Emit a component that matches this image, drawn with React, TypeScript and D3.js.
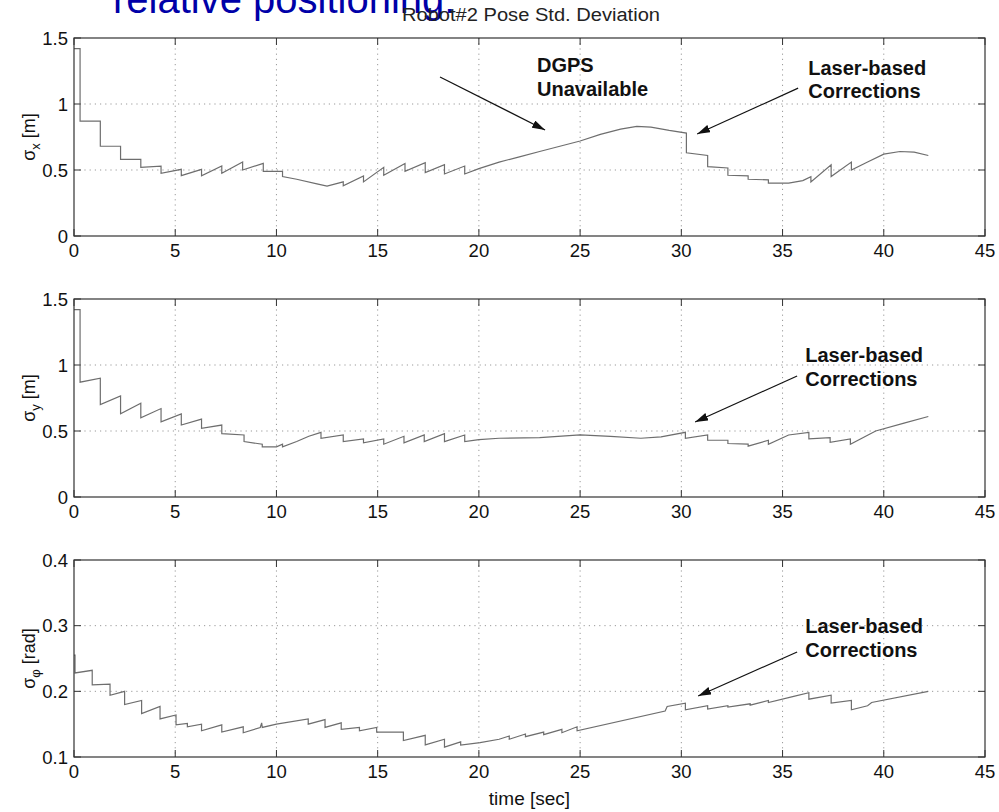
import React, { useRef, useEffect } from "react";
import * as d3 from "d3";

// time axis
const timeTicks = [0, 5, 10, 15, 20, 25, 30, 35, 40, 45];

// sigma_x [m] : [time, value], repeated times make the correction jumps
const sigmaX: [number, number][] = [
  [0, 1.42], [0.3, 1.42], [0.3, 0.87], [1.3, 0.87], [1.3, 0.68], [2.3, 0.68], [2.3, 0.58],
  [3.3, 0.58], [3.3, 0.52], [4.3, 0.53], [4.3, 0.475], [5.3, 0.505], [5.3, 0.457],
  [6.3, 0.505], [6.3, 0.457], [7.3, 0.53], [7.3, 0.475], [8.33, 0.56], [8.33, 0.5],
  [9.35, 0.55], [9.35, 0.49], [10.3, 0.49], [10.3, 0.45], [11, 0.43], [12, 0.395],
  [12.5, 0.378], [13.3, 0.41], [13.3, 0.38], [14.3, 0.455], [14.3, 0.41], [15.3, 0.52],
  [15.3, 0.46], [16.35, 0.55], [16.35, 0.49], [17.35, 0.555], [17.35, 0.48], [18.3, 0.54],
  [18.3, 0.47], [19.3, 0.53], [19.3, 0.47], [20, 0.51], [21, 0.56], [22, 0.6], [23, 0.64],
  [24, 0.68], [25, 0.72], [26, 0.77], [27, 0.81], [27.8, 0.83], [28.5, 0.825], [29.4, 0.8],
  [30.25, 0.78], [30.25, 0.63], [31.3, 0.61], [31.3, 0.525], [32.3, 0.515], [32.3, 0.46],
  [33.3, 0.455], [33.3, 0.43], [34.3, 0.425], [34.3, 0.4], [35.3, 0.4], [36, 0.42],
  [36.4, 0.45], [36.4, 0.41], [37.4, 0.54], [37.4, 0.45], [38.4, 0.56], [38.4, 0.5],
  [39.2, 0.56], [40, 0.62], [40.8, 0.64], [41.5, 0.635], [42.2, 0.61],
];

// sigma_y [m]
const sigmaY: [number, number][] = [
  [0, 1.42], [0.3, 1.42], [0.3, 0.87], [1.3, 0.9], [1.3, 0.7], [2.3, 0.765], [2.3, 0.63],
  [3.3, 0.71], [3.3, 0.6], [4.3, 0.67], [4.3, 0.57], [5.3, 0.63], [5.3, 0.545], [6.3, 0.59],
  [6.3, 0.52], [7.3, 0.545], [7.3, 0.48], [8.4, 0.47], [8.4, 0.42], [9.3, 0.4], [9.3, 0.38],
  [10, 0.38], [10.3, 0.4], [10.3, 0.38], [11, 0.42], [11.6, 0.46], [12.2, 0.49],
  [12.2, 0.445], [13.3, 0.47], [13.3, 0.42], [14.3, 0.44], [14.3, 0.41], [15.3, 0.44],
  [15.3, 0.4], [16.3, 0.46], [16.3, 0.41], [17.3, 0.47], [17.3, 0.42], [18.3, 0.48],
  [18.3, 0.42], [19.3, 0.47], [19.3, 0.42], [20, 0.435], [21, 0.445], [23, 0.45],
  [25, 0.47], [26.5, 0.46], [28, 0.445], [29, 0.455], [30.2, 0.49], [30.2, 0.445],
  [31.3, 0.47], [31.3, 0.43], [32.3, 0.43], [32.3, 0.405], [33.3, 0.4], [33.3, 0.385],
  [34.3, 0.43], [34.3, 0.4], [35.3, 0.47], [36.3, 0.49], [36.3, 0.44], [37.35, 0.45],
  [37.35, 0.415], [38.35, 0.44], [38.35, 0.4], [39.6, 0.5], [41, 0.56], [42.2, 0.61],
];

// sigma_phi [rad]
const sigmaPhi: [number, number][] = [
  [0, 0.255], [0.05, 0.255], [0.05, 0.228], [0.9, 0.232], [0.9, 0.21], [1.78, 0.211],
  [1.78, 0.194], [2.5, 0.2], [2.5, 0.18], [3.34, 0.186], [3.34, 0.166], [4.25, 0.177],
  [4.25, 0.158], [5.04, 0.164], [5.04, 0.149], [5.6, 0.151], [5.6, 0.146], [6.3, 0.15],
  [6.3, 0.14], [7.3, 0.149], [7.3, 0.138], [8.36, 0.146], [8.36, 0.137], [9.2, 0.145],
  [9.27, 0.152], [9.3, 0.145], [10, 0.15], [11.57, 0.158], [11.57, 0.15], [12.4, 0.157],
  [12.4, 0.145], [13.2, 0.152], [13.2, 0.142], [14.1, 0.145], [14.1, 0.14], [14.95, 0.145],
  [14.95, 0.138], [16.27, 0.138], [16.27, 0.125], [17.35, 0.133], [17.35, 0.1185],
  [18.3, 0.127], [18.3, 0.115], [19.1, 0.123], [19.1, 0.118], [20.06, 0.122], [21, 0.127],
  [21.5, 0.132], [21.5, 0.127], [22.3, 0.135], [22.3, 0.131], [23.2, 0.138], [23.2, 0.134],
  [24.1, 0.142], [24.1, 0.137], [24.85, 0.146], [24.85, 0.14], [29.2, 0.17], [29.3, 0.177],
  [30.2, 0.182], [30.2, 0.172], [31.3, 0.178], [31.3, 0.173], [32.3, 0.178], [32.3, 0.176],
  [33.4, 0.181], [33.4, 0.179], [34.3, 0.186], [34.3, 0.183], [35.5, 0.192], [36.3, 0.198],
  [36.3, 0.188], [37.4, 0.194], [37.4, 0.182], [38.4, 0.186], [38.4, 0.172], [39.2, 0.178],
  [39.4, 0.183], [42.2, 0.2],
];

const posTicks = [0, 0.5, 1, 1.5];
const posTickLabels = ["0", "0.5", "1", "1.5"];
const headTicks = [0.1, 0.2, 0.3, 0.4];
const headTickLabels = ["0.1", "0.2", "0.3", "0.4"];

const panels = [
  {
    data: sigmaX, domain: [0, 1.5], ticks: posTicks, labels: posTickLabels,
    sub: "x", unit: " [m]", top: 38, bottom: 236,
    notes: [
      { lines: ["DGPS", "Unavailable"], tx: 22.87, ty: [1.24, 1.06], from: [18.08, 1.205], to: [23.27, 0.803] },
      { lines: ["Laser-based", "Corrections"], tx: 36.27, ty: [1.22, 1.045], from: [35.77, 1.12], to: [30.78, 0.773] },
    ],
  },
  {
    data: sigmaY, domain: [0, 1.5], ticks: posTicks, labels: posTickLabels,
    sub: "y", unit: " [m]", top: 299, bottom: 497,
    notes: [
      { lines: ["Laser-based", "Corrections"], tx: 36.12, ty: [1.023, 0.84], from: [35.72, 0.917], to: [30.68, 0.568] },
    ],
  },
  {
    data: sigmaPhi, domain: [0.1, 0.4], ticks: headTicks, labels: headTickLabels,
    sub: "φ", unit: " [rad]", top: 560, bottom: 757,
    notes: [
      { lines: ["Laser-based", "Corrections"], tx: 36.12, ty: [0.289, 0.252], from: [35.72, 0.26], to: [30.83, 0.193] },
    ],
  },
];

const FONT = "'Liberation Sans', Arial, Helvetica, sans-serif";

const App = () => {
  const svgRef = useRef<SVGSVGElement>(null);

  useEffect(() => {
    const width = 999;
    const height = 812;
    const left = 74;
    const right = 985;

    const svg = d3.select(svgRef.current);
    svg.selectAll("*").remove();
    svg.attr("width", width).attr("height", height).style("font-family", FONT);

    svg.append("rect").attr("width", width).attr("height", height).attr("fill", "#fff");

    svg
      .append("defs")
      .append("marker")
      .attr("id", "head")
      .attr("viewBox", "0 0 13 8")
      .attr("refX", 13)
      .attr("refY", 4)
      .attr("markerWidth", 13)
      .attr("markerHeight", 8)
      .attr("markerUnits", "userSpaceOnUse")
      .attr("orient", "auto")
      .append("path")
      .attr("d", "M0,0 L13,4 L0,8 Z")
      .attr("fill", "#111");

    const x = d3.scaleLinear().domain([0, 45]).range([left, right]);

    panels.forEach((p, idx) => {
      const y = d3.scaleLinear().domain(p.domain).range([p.bottom, p.top]);
      const g = svg.append("g");

      // dotted grid
      g.selectAll(".vg")
        .data(timeTicks.slice(1, -1))
        .enter()
        .append("line")
        .attr("x1", (d) => x(d))
        .attr("x2", (d) => x(d))
        .attr("y1", p.top)
        .attr("y2", p.bottom)
        .attr("stroke", "#999")
        .attr("stroke-dasharray", "1.2,4");
      g.selectAll(".hg")
        .data(p.ticks.slice(1, -1))
        .enter()
        .append("line")
        .attr("x1", left)
        .attr("x2", right)
        .attr("y1", (d) => y(d))
        .attr("y2", (d) => y(d))
        .attr("stroke", "#999")
        .attr("stroke-dasharray", "1.2,4");

      // inward ticks on all four sides
      const tl = 7;
      timeTicks.forEach((t) => {
        g.append("line").attr("x1", x(t)).attr("x2", x(t)).attr("y1", p.bottom).attr("y2", p.bottom - tl).attr("stroke", "#333");
        g.append("line").attr("x1", x(t)).attr("x2", x(t)).attr("y1", p.top).attr("y2", p.top + tl).attr("stroke", "#333");
      });
      p.ticks.forEach((v) => {
        g.append("line").attr("x1", left).attr("x2", left + tl).attr("y1", y(v)).attr("y2", y(v)).attr("stroke", "#333");
        g.append("line").attr("x1", right).attr("x2", right - tl).attr("y1", y(v)).attr("y2", y(v)).attr("stroke", "#333");
      });

      // curve
      const line = d3
        .line<[number, number]>()
        .x((d) => x(d[0]))
        .y((d) => y(d[1]));
      g.append("path")
        .datum(p.data)
        .attr("d", line)
        .attr("fill", "none")
        .attr("stroke", "#6e6e6e")
        .attr("stroke-width", 1.2);

      // box
      g.append("rect")
        .attr("x", left)
        .attr("y", p.top)
        .attr("width", right - left)
        .attr("height", p.bottom - p.top)
        .attr("fill", "none")
        .attr("stroke", "#333")
        .attr("stroke-width", 1.2);

      // tick labels
      g.selectAll(".xl")
        .data(timeTicks)
        .enter()
        .append("text")
        .attr("x", (d) => x(d))
        .attr("y", p.bottom + 21)
        .attr("text-anchor", "middle")
        .attr("font-size", 18.5)
        .attr("fill", "#111")
        .text((d) => String(d));
      g.selectAll(".yl")
        .data(p.ticks)
        .enter()
        .append("text")
        .attr("x", left - 6)
        .attr("y", (d) => y(d) + 6.5)
        .attr("text-anchor", "end")
        .attr("font-size", 18.5)
        .attr("fill", "#111")
        .text((_, i) => p.labels[i]);

      // y label
      const cy = (p.top + p.bottom) / 2;
      const lab = g
        .append("text")
        .attr("transform", `translate(35, ${cy}) rotate(-90)`)
        .attr("text-anchor", "middle")
        .attr("font-size", 18)
        .attr("fill", "#111");
      lab.append("tspan").text("σ");
      lab.append("tspan").attr("dy", 5).attr("font-size", 13).text(p.sub);
      lab.append("tspan").attr("dy", -5).text(p.unit);

      // annotations
      p.notes.forEach((n) => {
        n.lines.forEach((s, i) => {
          g.append("text")
            .attr("x", x(n.tx))
            .attr("y", y(n.ty[i]))
            .attr("font-size", 20)
            .attr("font-weight", "bold")
            .attr("fill", "#111")
            .text(s);
        });
        g.append("line")
          .attr("x1", x(n.from[0]))
          .attr("y1", y(n.from[1]))
          .attr("x2", x(n.to[0]))
          .attr("y2", y(n.to[1]))
          .attr("stroke", "#111")
          .attr("stroke-width", 1.2)
          .attr("marker-end", "url(#head)");
      });

      if (idx === 2) {
        g.append("text")
          .attr("x", (left + right) / 2)
          .attr("y", 805)
          .attr("text-anchor", "middle")
          .attr("font-size", 19)
          .attr("fill", "#111")
          .text("time [sec]");
      }
    });

    // cut-off slide text behind the title
    svg
      .append("text")
      .attr("x", 113)
      .attr("y", 13)
      .attr("font-size", 40)
      .attr("fill", "#0000a8")
      .text("relative positioning:");

    svg
      .append("text")
      .attr("x", 531)
      .attr("y", 21)
      .attr("text-anchor", "middle")
      .attr("font-size", 18)
      .attr("textLength", 258)
      .attr("lengthAdjust", "spacingAndGlyphs")
      .attr("fill", "#222")
      .text("Robot#2 Pose Std. Deviation");
  }, []);

  return (
    <div style={{ position: "absolute", left: 0, top: 0 }}>
      <svg ref={svgRef}></svg>
    </div>
  );
};

export default App;
